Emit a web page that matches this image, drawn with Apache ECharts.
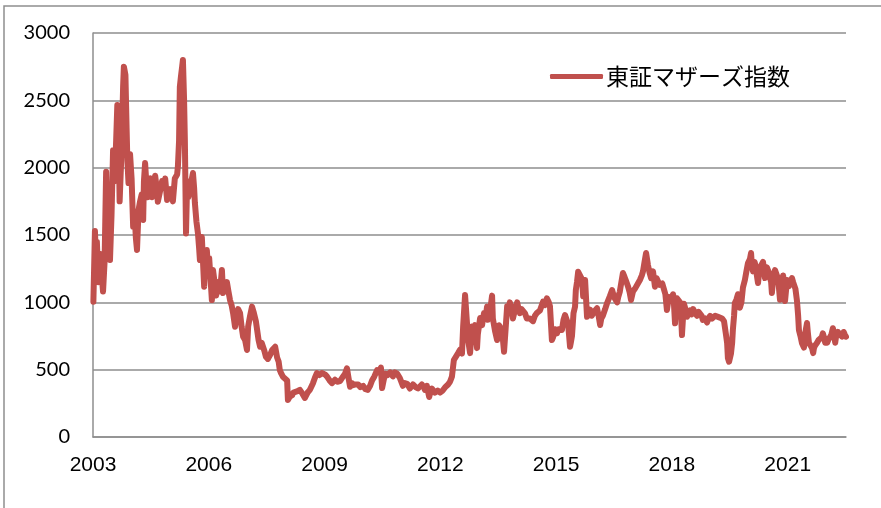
<!DOCTYPE html>
<html>
<head>
<meta charset="utf-8">
<script src="https://cdn.jsdelivr.net/npm/echarts@6/dist/echarts.min.js"></script>
<style>
  html, body { margin: 0; padding: 0; background: #fff; }
  #main { width: 881px; height: 508px; }
</style>
</head>
<body>
<div id="main"></div>
<script>
// decimal years (2003 ... mid 2022)
const years = [
  2003.01,2003.05,2003.08,2003.10,2003.14,2003.18,2003.22,2003.26,2003.30,2003.34,2003.36,2003.40,
  2003.44,2003.48,2003.52,2003.56,2003.60,2003.63,2003.66,2003.69,2003.73,2003.75,2003.78,2003.80,
  2003.84,2003.87,2003.89,2003.92,2003.96,2004.00,2004.04,2004.08,2004.11,2004.14,2004.18,2004.22,
  2004.26,2004.30,2004.32,2004.35,2004.39,2004.41,2004.45,2004.49,2004.53,2004.57,2004.61,2004.65,
  2004.68,2004.74,2004.79,2004.83,2004.87,2004.92,2004.96,2005.00,2005.03,2005.07,2005.12,2005.18,
  2005.20,2005.23,2005.25,2005.28,2005.31,2005.33,2005.36,2005.38,2005.41,2005.44,2005.47,2005.51,
  2005.55,2005.59,2005.62,2005.64,2005.68,2005.72,2005.75,2005.77,2005.80,2005.82,2005.85,2005.88,
  2005.91,2005.95,2005.98,2006.01,2006.04,2006.08,2006.11,2006.15,2006.19,2006.21,2006.24,2006.29,
  2006.34,2006.37,2006.42,2006.47,2006.51,2006.55,2006.59,2006.63,2006.65,2006.68,2006.72,2006.76,
  2006.81,2006.85,2006.89,2006.94,2006.99,2007.02,2007.07,2007.12,2007.16,2007.20,2007.22,2007.25,
  2007.29,2007.33,2007.37,2007.40,2007.44,2007.48,2007.53,2007.59,2007.64,2007.68,2007.72,2007.77,
  2007.81,2007.84,2007.88,2007.92,2007.97,2008.03,2008.05,2008.10,2008.16,2008.19,2008.23,2008.30,
  2008.36,2008.43,2008.49,2008.56,2008.62,2008.70,2008.75,2008.80,2008.87,2008.93,2009.01,2009.06,
  2009.13,2009.19,2009.27,2009.33,2009.40,2009.48,2009.53,2009.58,2009.62,2009.66,2009.71,2009.74,
  2009.80,2009.87,2009.93,2010.00,2010.06,2010.12,2010.18,2010.23,2010.29,2010.36,2010.41,2010.46,
  2010.49,2010.53,2010.57,2010.63,2010.70,2010.77,2010.82,2010.88,2010.95,2011.03,2011.08,2011.14,
  2011.21,2011.29,2011.36,2011.42,2011.47,2011.52,2011.58,2011.60,2011.65,2011.71,2011.74,2011.78,
  2011.86,2011.93,2011.99,2012.06,2012.12,2012.20,2012.25,2012.30,2012.35,2012.40,2012.46,2012.51,
  2012.56,2012.59,2012.64,2012.69,2012.72,2012.77,2012.82,2012.85,2012.90,2012.95,2012.97,2013.03,
  2013.08,2013.13,2013.17,2013.21,2013.23,2013.29,2013.34,2013.36,2013.42,2013.47,2013.52,2013.60,
  2013.65,2013.69,2013.73,2013.76,2013.80,2013.84,2013.88,2013.93,2013.99,2014.02,2014.06,2014.10,
  2014.14,2014.19,2014.24,2014.32,2014.40,2014.45,2014.50,2014.58,2014.66,2014.71,2014.76,2014.81,
  2014.84,2014.89,2014.92,2014.97,2015.02,2015.06,2015.10,2015.15,2015.19,2015.23,2015.28,2015.31,
  2015.36,2015.38,2015.41,2015.45,2015.49,2015.51,2015.54,2015.57,2015.62,2015.67,2015.70,2015.72,
  2015.75,2015.80,2015.84,2015.88,2015.92,2015.95,2016.01,2016.06,2016.10,2016.14,2016.17,2016.21,
  2016.27,2016.32,2016.36,2016.39,2016.45,2016.50,2016.54,2016.58,2016.61,2016.65,2016.69,2016.73,
  2016.77,2016.81,2016.86,2016.90,2016.94,2016.99,2017.04,2017.09,2017.17,2017.22,2017.25,2017.29,
  2017.33,2017.38,2017.42,2017.46,2017.51,2017.56,2017.60,2017.64,2017.68,2017.72,2017.75,2017.79,
  2017.83,2017.87,2017.90,2017.92,2017.97,2018.03,2018.05,2018.08,2018.10,2018.13,2018.17,2018.21,
  2018.23,2018.26,2018.29,2018.31,2018.35,2018.39,2018.43,2018.47,2018.51,2018.55,2018.60,2018.65,
  2018.69,2018.73,2018.77,2018.80,2018.86,2018.91,2018.95,2018.99,2019.04,2019.06,2019.12,2019.17,
  2019.21,2019.24,2019.30,2019.32,2019.35,2019.37,2019.40,2019.43,2019.45,2019.48,2019.50,2019.53,
  2019.56,2019.58,2019.61,2019.63,2019.67,2019.71,2019.74,2019.76,2019.80,2019.84,2019.89,2019.93,
  2019.97,2020.00,2020.02,2020.05,2020.07,2020.10,2020.14,2020.18,2020.20,2020.23,2020.27,2020.31,
  2020.36,2020.39,2020.41,2020.44,2020.46,2020.50,2020.54,2020.57,2020.59,2020.63,2020.67,2020.70,
  2020.72,2020.76,2020.80,2020.84,2020.88,2020.90,2020.93,2020.96,2020.98,2021.01,2021.03,2021.07,
  2021.11,2021.14,2021.16,2021.20,2021.24,2021.27,2021.29,2021.33,2021.37,2021.40,2021.42,2021.45,
  2021.47,2021.50,2021.52,2021.55,2021.58,2021.60,2021.63,2021.66,2021.68,2021.71,2021.76,2021.80,
  2021.84,2021.88,2021.91,2021.94,2021.97,2021.99,2022.02,2022.05,2022.09,2022.13,2022.17,2022.20,
  2022.23,2022.26,2022.30,2022.36,2022.41,2022.45,2022.48,2022.51
];

// index level at each of those points
const mothers = [
  1005,1530,1300,1450,1150,1360,1220,1080,1300,1970,1650,1450,
  1314,1650,2130,1900,2200,2465,2300,1750,2050,2250,2600,2750,
  2690,2300,2057,1886,2100,1920,1562,1650,1480,1388,1685,1750,
  1800,1612,1900,2034,1850,1780,1880,1920,1780,1850,1940,1850,
  1747,1830,1900,1860,1920,1760,1820,1840,1800,1750,1920,1950,
  2010,2200,2600,2680,2750,2800,2500,2205,1512,1900,1780,1840,
  1900,1960,1850,1737,1600,1510,1400,1314,1420,1485,1300,1116,
  1300,1388,1250,1330,1200,1017,1240,1150,1050,1100,1150,1080,
  1240,1069,1100,1150,1080,1017,980,920,880,819,900,950,
  920,820,745,720,646,820,900,968,930,920,860,800,
  720,670,700,690,640,596,580,610,646,640,670,590,
  560,497,470,448,440,420,275,300,310,330,325,340,
  350,320,290,330,350,400,440,475,460,475,465,450,
  420,400,425,410,415,450,470,510,440,373,400,385,
  390,390,370,380,355,350,380,420,450,497,480,515,
  363,420,470,460,480,450,480,470,438,380,400,395,
  360,390,370,360,375,390,365,350,380,297,330,360,
  330,345,330,345,368,390,410,448,572,580,623,648,
  620,819,1054,1040,720,623,820,760,831,660,760,883,
  830,920,880,968,870,940,1050,880,782,720,830,790,
  633,800,970,940,1000,960,880,940,1000,960,920,950,
  950,920,880,880,860,900,920,940,1005,980,1030,1000,
  970,720,740,800,770,800,795,795,870,906,920,840,
  670,700,750,920,968,1091,1150,1227,1220,1170,1045,1090,
  1166,893,920,945,900,900,940,956,900,831,880,900,
  950,995,1000,1045,1091,1040,1020,1000,1040,1080,1150,1218,
  1190,1160,1120,1080,1017,1080,1100,1110,1166,1200,1230,1300,
  1366,1275,1220,1180,1230,1116,1180,1170,1130,1120,1140,1100,
  1060,943,1000,1040,1020,1060,1000,844,950,1030,1020,1000,
  950,757,900,990,950,893,920,940,910,950,920,900,
  930,920,900,869,880,850,880,900,880,870,900,910,
  890,893,880,870,860,820,760,698,586,559,570,620,
  698,800,900,995,1020,1060,1030,960,1000,1110,1166,1230,
  1292,1300,1320,1366,1280,1230,1300,1260,1200,1143,1250,1260,
  1300,1230,1180,1240,1260,1230,1220,1150,1069,1200,1240,1230,
  1200,1150,1020,1120,1200,1150,1010,1100,1166,1180,1120,1150,
  1180,1150,1160,1100,1010,900,795,750,696,700,664,720,
  800,846,780,700,690,700,660,623,660,680,700,720,
  720,740,770,740,700,730,700,720,730,760,808,770,
  700,760,780,760,745,780,760,745
];

const seriesName = '東証マザーズ指数';
const yTicks = [0, 500, 1000, 1500, 2000, 2500, 3000];

const chart = echarts.init(document.getElementById('main'));

const gray = '#8E8E8E';
const red = '#C0504D';

chart.setOption({
  animation: false,
  backgroundColor: '#fff',
  grid: { left: 93, right: 35, top: 33, bottom: 71 },
  graphic: [{
    type: 'rect',
    shape: { x: 4, y: 6, width: 1000, height: 700 },
    style: { fill: 'none', stroke: gray, lineWidth: 1.5 },
    silent: true
  }],
  legend: {
    left: 545,
    top: 60,
    icon: 'roundRect',
    itemWidth: 53,
    itemHeight: 5,
    itemGap: 0,
    textStyle: {
      fontFamily: '"Noto Sans CJK JP", sans-serif',
      fontSize: 23,
      color: '#000',
      padding: [0, 0, 0, -2]
    },
    data: [seriesName]
  },
  xAxis: {
    type: 'value',
    min: 2003,
    max: 2022.51,
    interval: 3,
    axisLine: { show: true, lineStyle: { color: gray, width: 1.5 } },
    axisTick: { show: false },
    splitLine: { show: false },
    axisLabel: {
      showMaxLabel: false,
      margin: 18,
      fontFamily: '"Liberation Sans Narrow", sans-serif',
      fontSize: 21,
      color: '#000',
      formatter: v => String(Math.round(v))
    }
  },
  yAxis: {
    type: 'value',
    min: yTicks[0],
    max: yTicks[yTicks.length - 1],
    interval: 500,
    axisLine: { show: true, lineStyle: { color: gray, width: 1.5 } },
    axisTick: { show: false },
    splitLine: { lineStyle: { color: gray, width: 1.5 } },
    axisLabel: {
      margin: 23,
      fontFamily: 'Lato, sans-serif',
      fontSize: 20,
      color: '#000',
      formatter: v => String(v)
    }
  },
  series: [{
    name: seriesName,
    type: 'line',
    showSymbol: false,
    data: years.map((y, i) => [y, mothers[i]]),
    lineStyle: { color: red, width: 6, cap: 'round', join: 'round' },
    itemStyle: { color: red }
  }]
});
</script>
</body>
</html>
